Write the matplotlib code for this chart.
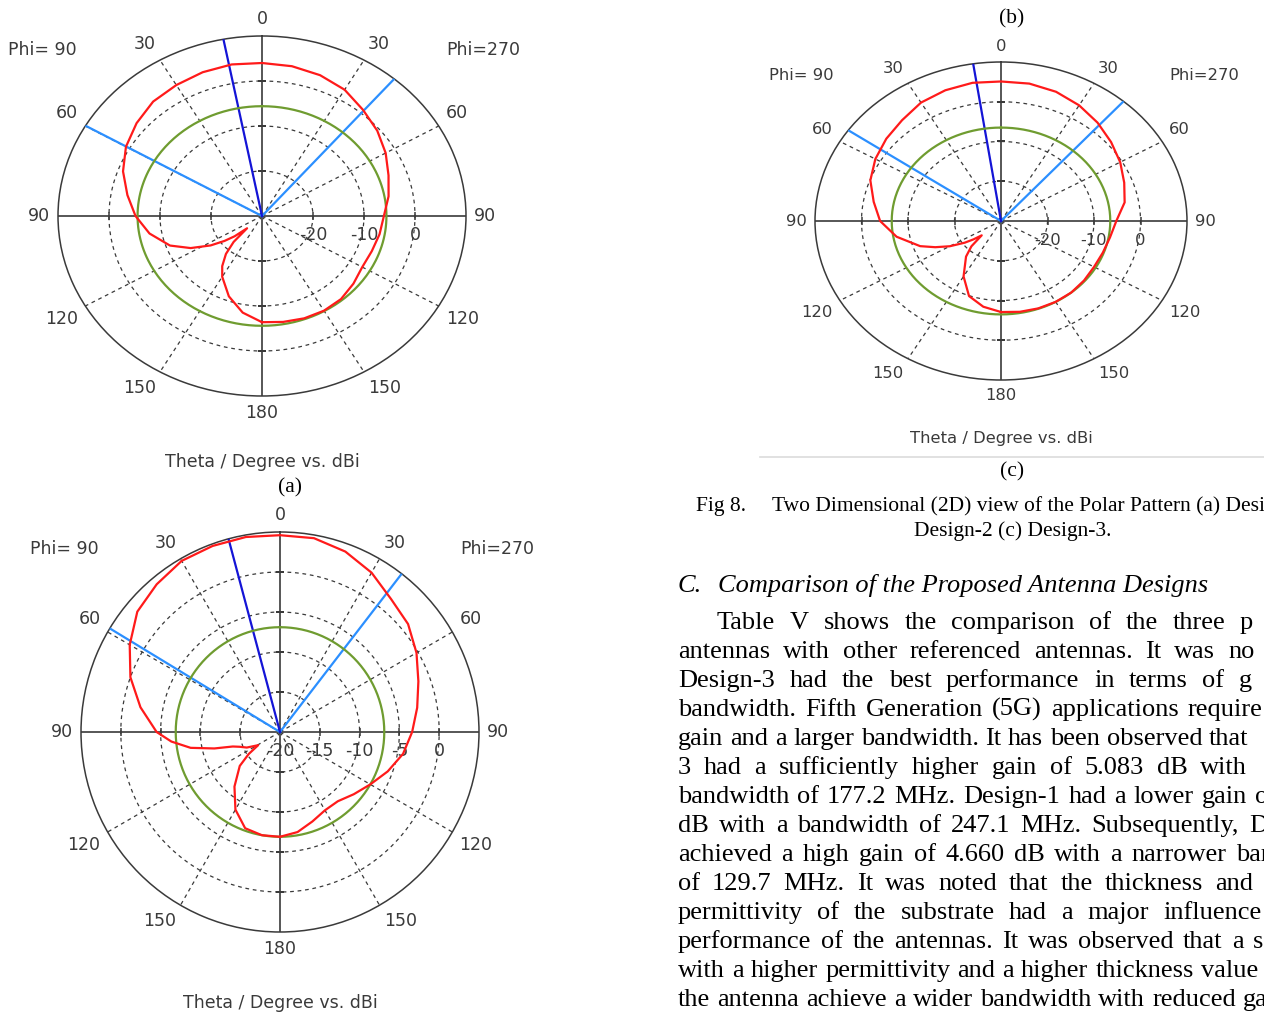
import matplotlib
matplotlib.use("Agg")
import matplotlib.pyplot as plt
import numpy as np
from matplotlib.lines import Line2D

W, H = 1264, 1017
fig = plt.figure(figsize=(W / 100, H / 100), dpi=100)

INK = "#3a3a3a"
RED, GREEN, DBLUE, LBLUE = "#ff1a1a", "#6f9c30", "#1414d6", "#2b8fff"

# ---- Design-1 (a): gain in dBi vs theta (negative = Phi 90 side)
theta_a = [-180, -170, -160, -150, -145, -140, -136, -133, -130, -127, -123, -117,
           -110, -100, -90, -80, -70, -60, -50, -40, -30, -20, -10, 0, 10, 20, 30,
           40, 50, 60, 70, 80, 90, 100, 110, 120, 130, 140, 150, 160, 170, 180]
gain_a = [-6.4, -8.2, -11.0, -14.4, -16.4, -19.0, -22.0, -26.0, -23.0, -20.8, -18.0, -14.3,
          -10.8, -7.6, -5.2, -3.2, -1.0, 0.8, 2.1, 3.2, 3.6, 4.0, 4.2, 4.0, 3.8, 3.3, 2.4,
          0.8, -0.5, -2.0, -3.6, -4.8, -6.1, -6.6, -7.1, -7.3, -6.6, -5.9, -5.7, -5.8, -6.1, -6.4]
main_a = -10.9
edges_a = [-59.9, 40.4]
level_a = -5.6

# ---- Design-2 (b)
theta_b = [-180, -170, -160, -150, -140, -130, -125, -121, -115, -110, -107, -104,
           -100, -95, -90, -80, -70, -60, -50, -40, -30, -20, -10, 0, 10, 20, 30,
           40, 50, 60, 70, 80, 90, 100, 110, 120, 130, 140, 150, 160, 170, 180]
gain_b = [-6.9, -6.9, -7.2, -8.8, -11.1, -13.4, -15.2, -16.8, -15.4, -14.6, -13.8, -11.5,
          -8.6, -6.3, -4.5, -2.2, 0.0, 1.8, 3.4, 4.1, 4.7, 4.75, 4.75, 4.6, 4.6, 4.0, 3.0,
          1.7, 1.0, -0.2, -1.5, -2.5, -3.4, -4.3, -5.6, -6.9, -7.9, -8.7, -8.7, -8.1, -7.3, -6.9]
main_b = -15.0
edges_b = [-58.8, 37.7]
level_b = -6.9

# ---- Design-3 (c)
theta_c = [-180, -170, -160, -150, -140, -135, -131, -128, -125, -120, -115, -110,
           -100, -90, -80, -70, -60, -50, -40, -30, -20, -10, 0, 10, 20, 30, 40, 50,
           60, 70, 80, 90, 100, 110, 120, 130, 140, 150, 160, 170, 180]
gain_c = [-7.1, -8.1, -9.9, -13.9, -18.3, -21.0, -24.5, -22.5, -20.5, -17.3, -14.4, -11.5,
          -7.2, -4.0, -2.2, -0.1, 1.2, 2.2, 3.1, 4.4, 5.0, 5.3, 5.1, 5.1, 4.6, 3.6, 2.3, 0.9,
          -0.4, -1.8, -3.0, -5.2, -6.2, -6.7, -6.9, -6.7, -6.5, -6.5, -6.6, -6.8, -7.1]
main_c = -8.6
edges_c = [-55.2, 41.2]
level_c = -6.5

theta_ticks = [0, 30, 60, 90, 120, 150, 180, 210, 240, 270, 300, 330]
theta_ticklabels = ["0", "30", "60", "90", "120", "150", "180", "150", "120", "90", "60", "30"]

caption_lines = ["Two Dimensional (2D) view of the Polar Pattern (a) Desig",
                 "Design-2 (c) Design-3."]
heading = "Comparison of the Proposed Antenna Designs"
body = [
    "Table V shows the comparison of the three p",
    "antennas with other referenced antennas. It was no",
    "Design-3 had the best performance in terms of g",
    "bandwidth. Fifth Generation (5G) applications require",
    "gain and a larger bandwidth. It has been observed that",
    "3 had a sufficiently higher gain of 5.083 dB with",
    "bandwidth of 177.2 MHz. Design-1 had a lower gain o",
    "dB with a bandwidth of 247.1 MHz. Subsequently, D",
    "achieved a high gain of 4.660 dB with a narrower ban",
    "of 129.7 MHz. It was noted that the thickness and",
    "permittivity of the substrate had a major influence",
    "performance of the antennas. It was observed that a s",
    "with a higher permittivity and a higher thickness value",
    "the antenna achieve a wider bandwidth with reduced ga",
]
# x of the last word on each justified line
body_last_x = [1240, 1228, 1239, 1188, 1209, 1200, 1255, 1249, 1236, 1215, 1163, 1253, 1201, 1243]


def put(x, y, s, **kw):
    return fig.text(x / W, 1 - y / H, s, **kw)


def pattern(cx, cy, rx, ry, rmin, rmax, rings, rlabels, theta, gain, main_dir,
            edges, level, fs, phi_y, phi_x, title_y):
    ax = fig.add_axes([(cx - rx) / W, 1 - (cy + ry) / H, 2 * rx / W, 2 * ry / H],
                      projection="polar")
    ax.set_aspect("auto")
    ax.set_theta_zero_location("N")
    ax.set_theta_direction(-1)
    ax.set_ylim(rmin, rmax)
    ax.set_yticks([])
    ax.set_thetagrids(theta_ticks, [""] * len(theta_ticks))
    ax.grid(False)
    ax.tick_params(axis="x", direction="in", length=4, width=1.2, color=INK)
    ax.spines["polar"].set_color(INK)
    ax.spines["polar"].set_linewidth(1.1)

    # angle labels sit just outside the rim, anchored by the corner facing it
    for a, lab in zip(theta_ticks, theta_ticklabels):
        s, c = np.sin(np.radians(a)), np.cos(np.radians(a))
        ha = "center" if abs(s) < 0.01 else ("left" if s > 0 else "right")
        va = "center" if abs(c) < 0.01 else ("bottom" if c > 0 else "top")
        ax.annotate(lab, (np.radians(a), rmax), xytext=(6 * s, 6 * c),
                    textcoords="offset points", ha=ha, va=va, fontsize=fs,
                    color=INK, annotation_clip=False)

    full = np.linspace(0, 2 * np.pi, 361)
    for r in rings:
        ax.plot(full, np.full_like(full, r), ls=(0, (3, 3)), color=INK, lw=0.9, zorder=1)
    for a in [30, 60, 120, 150, 210, 240, 300, 330]:
        ax.plot(np.radians([a, a]), [rmin, rmax], ls=(0, (3, 3)), color=INK, lw=0.9, zorder=1)
    for a in [0, 90, 180, 270]:
        ax.plot(np.radians([a, a]), [rmin, rmax], color=INK, lw=1.2, zorder=2)
    for a, m in [(90, "|"), (270, "|"), (0, "_"), (180, "_")]:
        ax.plot(np.radians(np.full(len(rings), a)), rings, ls="none", marker=m,
                ms=6, mew=1.1, color=INK, zorder=2)
    for v in rlabels:
        ax.annotate(str(v), (np.pi / 2, v), xytext=(0, -14), textcoords="offset points",
                    ha="center", va="center", fontsize=fs, color=INK)

    # 3 dB angular width, main lobe direction, reference level, gain
    for e in edges:
        ax.plot(np.radians([e, e]), [rmin, rmax], color=LBLUE, lw=1.6, zorder=3)
    ax.plot(np.radians([main_dir, main_dir]), [rmin, rmax], color=DBLUE, lw=1.6, zorder=3)
    ax.plot(full, np.full_like(full, level), color=GREEN, lw=1.6, zorder=4)
    ax.plot(np.radians(theta), gain, color=RED, lw=1.6, zorder=5)

    put(phi_x[0], phi_y, "Phi= 90", fontsize=fs, color=INK, ha="center", va="center")
    put(phi_x[1], phi_y, "Phi=270", fontsize=fs, color=INK, ha="center", va="center")
    put(cx, title_y, "Theta / Degree vs. dBi", fontsize=fs, color=INK, ha="center", va="center")
    return ax


pattern(262, 216, 204, 180, -30, 10, [-20, -10, 0], [-20, -10, 0], theta_a, gain_a,
        main_a, edges_a, level_a, 12.5, 50, (42, 483), 462)
pattern(280, 732, 199, 200, -20, 5, [-15, -10, -5, 0], [-20, -15, -10, -5, 0], theta_b, gain_b,
        main_b, edges_b, level_b, 12.5, 549, (64, 497), 1003)
pattern(1001, 221, 186, 159, -30, 10, [-20, -10, 0], [-20, -10, 0], theta_c, gain_c,
        main_c, edges_c, level_c, 11.8, 75, (801, 1204), 438)

fig.add_artist(Line2D([760 / W, 1], [1 - 457 / H] * 2, transform=fig.transFigure,
                      color="#dcdcdc", lw=1.2))

serif = "Liberation Serif"
put(290, 492, "(a)", fontsize=15.5, family=serif, ha="center", va="baseline")
put(1012, 23, "(b)", fontsize=15.5, family=serif, ha="center", va="baseline")
put(1012, 476, "(c)", fontsize=15.5, family=serif, ha="center", va="baseline")

put(696, 511, "Fig 8.", fontsize=15.5, family=serif, va="baseline")
put(772, 511, caption_lines[0], fontsize=15.5, family=serif, va="baseline")
put(1013, 536, caption_lines[1], fontsize=15.5, family=serif, ha="center", va="baseline")

put(678, 592, "C.", fontsize=19, family=serif, style="italic", va="baseline")
put(718, 592, heading, fontsize=19, family=serif, style="italic", va="baseline")

# justified body text: spread words between the left edge and the last word
renderer = fig.canvas.get_renderer()
for i, (line, xl) in enumerate(zip(body, body_last_x)):
    words = line.split()
    y = 629 + 29 * i
    x0 = 717 if i == 0 else 678
    arts = [put(0, y, w, fontsize=19, family=serif, va="baseline") for w in words]
    widths = [a.get_window_extent(renderer).width for a in arts]
    gap = (xl - x0 - sum(widths[:-1])) / (len(words) - 1)
    x = x0
    for a, wd in zip(arts, widths):
        a.set_x(x / W)
        x += wd + gap

fig.savefig("out.png", dpi=100, facecolor="white")
